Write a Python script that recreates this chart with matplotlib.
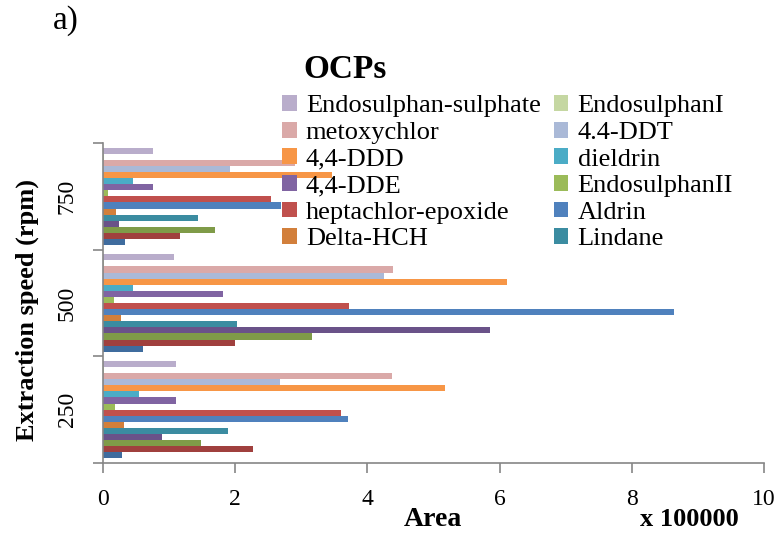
import matplotlib
matplotlib.use("Agg")
import matplotlib.pyplot as plt
from matplotlib.patches import Patch
import numpy as np

plt.rcParams['font.family'] = ['Liberation Serif', 'DejaVu Serif']

categories = ["250", "500", "750"]

# series in plotting order (bottom bar of each group first)
series_names = ["Series1", "Series2", "Series3", "Series4",
                "Lindane", "Delta-HCH", "Aldrin", "heptachlor-epoxide",
                "EndosulphanII", "4,4-DDE", "dieldrin", "4,4-DDD",
                "4.4-DDT", "metoxychlor", "EndosulphanI", "Endosulphan-sulphate"]

# values (x 100000) for 250, 500, 750 rpm
s1 = [0.29, 0.60, 0.33]
s2 = [2.27, 2.00, 1.17]
s3 = [1.49, 3.16, 1.70]
s4 = [0.89, 5.85, 0.24]
lindane = [1.89, 2.03, 1.44]
delta_hch = [0.32, 0.27, 0.20]
aldrin = [3.71, 8.64, 2.69]
heptachlor_epoxide = [3.60, 3.72, 2.54]
endosulphan2 = [0.18, 0.17, 0.08]
dde = [1.10, 1.82, 0.76]
dieldrin = [0.54, 0.46, 0.46]
ddd = [5.18, 6.11, 3.46]
ddt = [2.68, 4.25, 1.92]
metoxychlor = [4.37, 4.39, 2.90]
endosulphan1 = [0.02, 0.02, 0.01]
endosulphan_sulphate = [1.11, 1.08, 0.76]

values = [s1, s2, s3, s4, lindane, delta_hch, aldrin, heptachlor_epoxide,
          endosulphan2, dde, dieldrin, ddd, ddt, metoxychlor, endosulphan1,
          endosulphan_sulphate]

colors = ["#3F6C9E", "#A0403E", "#7F9B48", "#6A5289",
          "#3B8CA1", "#D27F3B", "#4F81BD", "#C0504D",
          "#9BBB59", "#8064A2", "#4BACC6", "#F79646",
          "#AAB9D7", "#DAA9A8", "#C5D7A2", "#B9ADCB"]

fig = plt.figure(figsize=(7.8, 5.36), dpi=100)
ax = fig.add_axes([103/780, 1-463/536, 661/780, 320/536])

n = len(values)
h = 1.0 / (n + 1.5)
y0 = np.arange(len(categories))
for i, (vals, c) in enumerate(zip(values, colors)):
    ax.barh(y0 - n*h/2 + (i + 0.5)*h, vals, height=h, color=c, linewidth=0)

grey = "#868686"
ax.set_xlim(0, 10)
ax.set_ylim(-0.5, 2.5)
ax.set_xticks([0, 2, 4, 6, 8, 10])
ax.tick_params(axis='x', colors=grey, labelcolor='black', labelsize=17,
               length=7, width=1.2, pad=12, direction='out')
ax.set_yticks([-0.5, 0.5, 1.5, 2.5])
ax.set_yticklabels([])
ax.tick_params(axis='y', colors=grey, length=7, width=1.2, direction='out')
ax.set_yticks(y0, minor=True)
ax.set_yticklabels(categories, minor=True, rotation=90, va='center', fontsize=17)
ax.tick_params(axis='y', which='minor', length=0, pad=18, labelcolor='black')
for s in ['top', 'right']:
    ax.spines[s].set_visible(False)
for s in ['left', 'bottom']:
    ax.spines[s].set_color(grey)
    ax.spines[s].set_linewidth(1.2)

fig.text(433/780, 1-520/536, "Area", fontsize=20, fontweight='bold', ha='center', va='center')
fig.text(689/780, 1-520/536, "x 100000", fontsize=19, fontweight='bold', ha='center', va='center')
fig.text(27/780, 1-310/536, "Extraction speed (rpm)", fontsize=19, fontweight='bold',
         rotation=90, ha='center', va='center')
fig.text(66/780, 1-21/536, "a)", fontsize=24, ha='center', va='center')
fig.text(345/780, 1-69/536, "OCPs", fontsize=24, fontweight='bold', ha='center', va='center')

order = [15, 13, 11, 9, 7, 5, 14, 12, 10, 8, 6, 4]
handles = [Patch(facecolor=colors[k], edgecolor='none') for k in order]
labels = [series_names[k] for k in order]
fig.legend(handles, labels, ncol=2, loc='upper left',
           bbox_to_anchor=(282/780, 1-95/536), frameon=False, fontsize=19,
           handlelength=0.55, handleheight=0.55, handletextpad=0.35,
           columnspacing=0.5, labelspacing=0.165, borderpad=0, borderaxespad=0)

fig.savefig("out.png", dpi=100)
